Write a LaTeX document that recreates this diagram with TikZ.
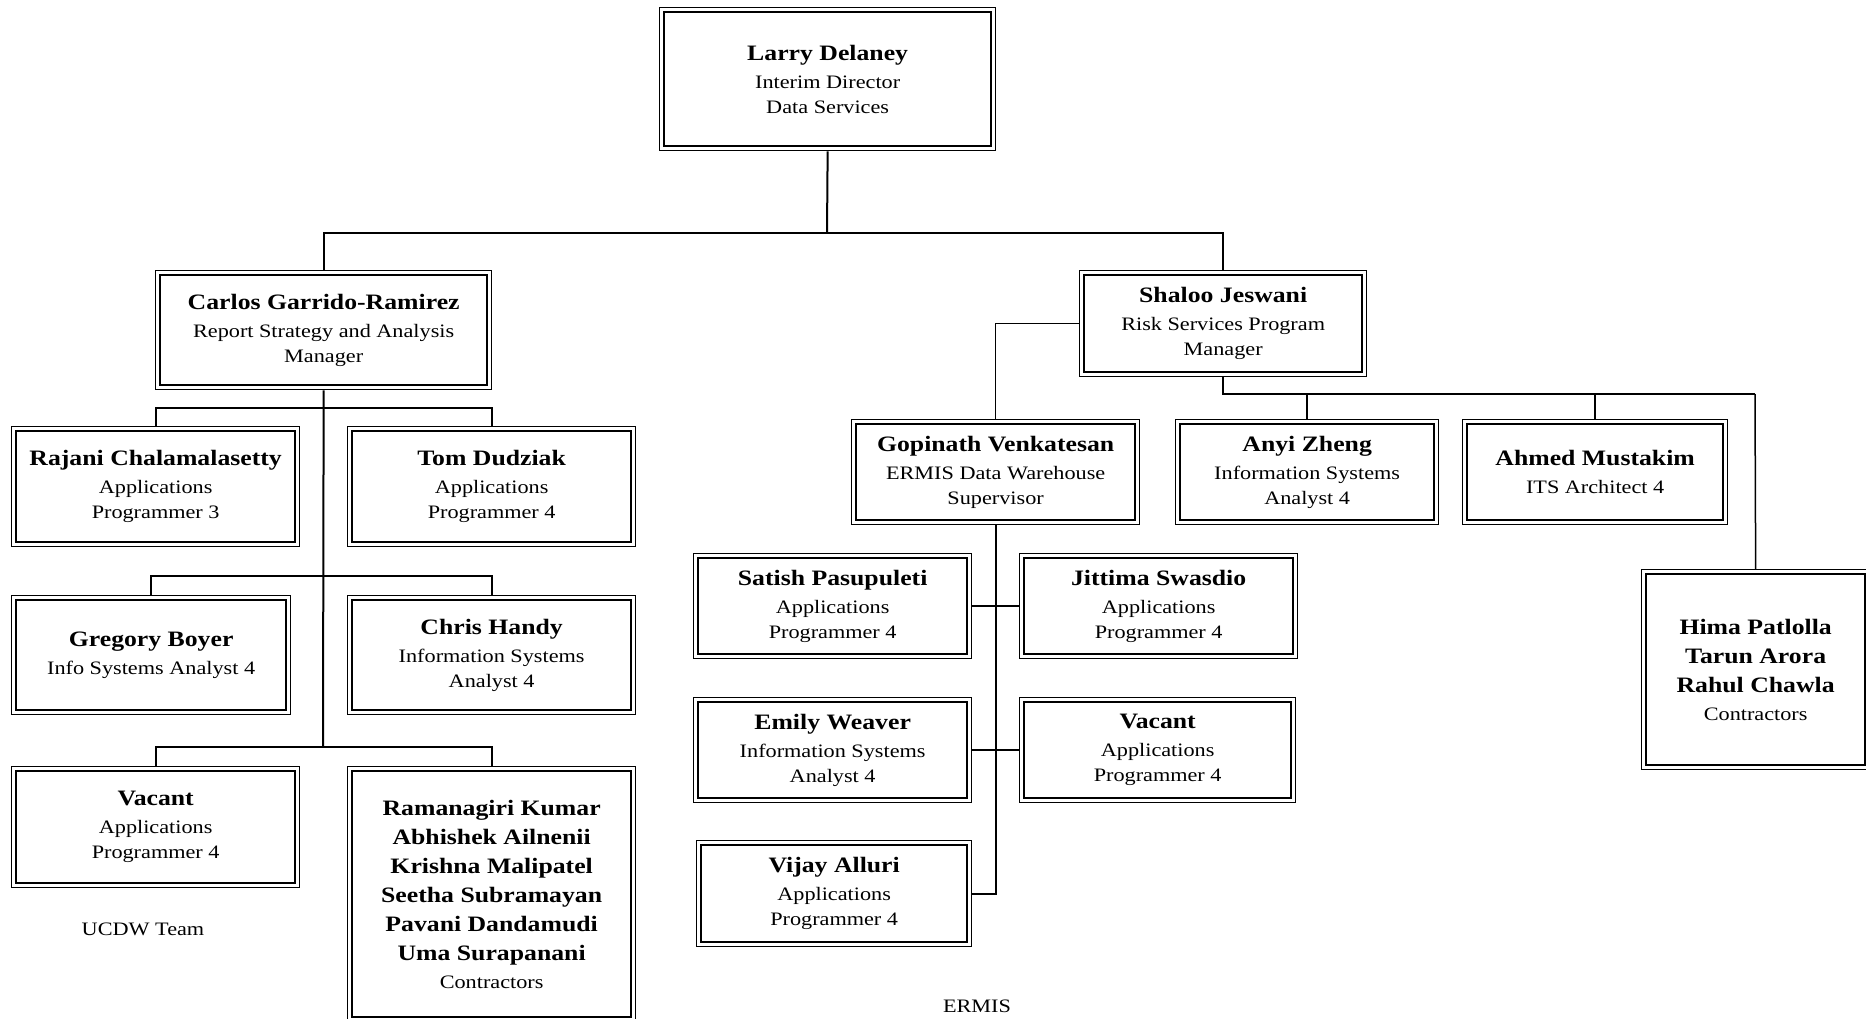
\documentclass[tikz,border=0pt]{standalone}
\usepackage{fontspec}
\setmainfont{Liberation Serif}[FakeStretch=1.17]
\tikzset{
  obox/.style={draw, line width=1.3pt, inner sep=0pt, anchor=north west, align=center,
    font=\fontsize{19}{25}\selectfont},
  conn/.style={line width=2pt},
  thinconn/.style={line width=1.5pt},
  lbl/.style={font=\fontsize{19}{25}\selectfont, inner sep=0pt},
}
\newcommand\orgbox[6]{%
  \node[obox, minimum width={#4-#2}, minimum height={#5-#3}] (#1) at (#2,#3) {#6};
  \draw[line width=2.2pt] ([xshift=5pt,yshift=-5pt]#1.north west) rectangle ([xshift=-5pt,yshift=5pt]#1.south east);
}
\newcommand\nm[1]{{\fontsize{22}{28}\selectfont\bfseries #1}}
\begin{document}
\begin{tikzpicture}[x=1pt,y=-1pt]
\useasboundingbox[fill=white] (0,0) rectangle (1866,1019);

\orgbox{larry}{659}{7}{995}{150}{\nm{Larry Delaney}\\[3pt]Interim Director\\Data Services}
\orgbox{carlos}{155}{270}{491}{389}{\nm{Carlos Garrido-Ramirez}\\[3pt]Report Strategy and Analysis\\Manager}
\orgbox{rajani}{11}{426}{299}{546}{\nm{Rajani Chalamalasetty}\\[3pt]Applications\\Programmer 3}
\orgbox{tom}{347}{426}{635}{546}{\nm{Tom Dudziak}\\[3pt]Applications\\Programmer 4}
\orgbox{gregory}{11}{595}{290}{714}{\nm{Gregory Boyer}\\[3pt]Info Systems Analyst 4}
\orgbox{chris}{347}{595}{635}{714}{\nm{Chris Handy}\\[3pt]Information Systems\\Analyst 4}
\orgbox{vacanta}{11}{766}{299}{887}{\nm{Vacant}\\[3pt]Applications\\Programmer 4}
\orgbox{contra}{347}{766}{635}{1021}{\nm{Ramanagiri Kumar}\\[4pt]\nm{Abhishek Ailnenii}\\[4pt]\nm{Krishna Malipatel}\\[4pt]\nm{Seetha Subramayan}\\[4pt]\nm{Pavani Dandamudi}\\[4pt]\nm{Uma Surapanani}\\[3pt]Contractors}

\orgbox{shaloo}{1079}{270}{1366}{376}{\nm{Shaloo Jeswani}\\[3pt]Risk Services Program\\Manager}
\orgbox{gopi}{851}{419}{1139}{524}{\nm{Gopinath Venkatesan}\\[3pt]ERMIS Data Warehouse\\Supervisor}
\orgbox{anyi}{1175}{419}{1438}{524}{\nm{Anyi Zheng}\\[3pt]Information Systems\\Analyst 4}
\orgbox{ahmed}{1462}{419}{1727}{524}{\nm{Ahmed Mustakim}\\[3pt]ITS Architect 4}
\orgbox{contrb}{1641}{569}{1869}{769}{\nm{Hima Patlolla}\\[4pt]\nm{Tarun Arora}\\[4pt]\nm{Rahul Chawla}\\[3pt]Contractors}
\orgbox{satish}{693}{553}{971}{658}{\nm{Satish Pasupuleti}\\[3pt]Applications\\Programmer 4}
\orgbox{jittima}{1019}{553}{1297}{658}{\nm{Jittima Swasdio}\\[3pt]Applications\\Programmer 4}
\orgbox{emily}{693}{697}{971}{802}{\nm{Emily Weaver}\\[3pt]Information Systems\\Analyst 4}
\orgbox{vacantb}{1019}{697}{1295}{802}{\nm{Vacant}\\[3pt]Applications\\Programmer 4}
\orgbox{vijay}{696}{840}{971}{946}{\nm{Vijay Alluri}\\[3pt]Applications\\Programmer 4}

\node[lbl] (ucdw) at (143,929) {UCDW Team};
\node[lbl] (ermis) at (977,1006) {ERMIS};

% top connectors
\coordinate (jtop) at (827,233);
\draw[conn] (larry.south) -- (jtop);
\draw[conn] (carlos.north) |- (jtop) -| (shaloo.north);

% Carlos branch
\coordinate (cja) at (323,408);
\coordinate (cjb) at (323,576);
\coordinate (cjc) at (323,747);
\draw[conn] (carlos.south) -- (cjc);
\draw[conn] (rajani.north) |- (cja) -| (tom.north);
\draw[conn] (gregory.north) |- (cjb) -| (chris.north);
\draw[conn] (vacanta.north) |- (cjc) -| (contra.north);

% Shaloo branch
\draw[thinconn] (shaloo.west) -| (gopi.north);
\coordinate (sj) at (1755,394);
\draw[conn] (shaloo.south) |- (sj);
\draw[thinconn] (sj) -- (contrb.north);
\draw[conn] (anyi.north) -- (anyi.north |- sj);
\draw[conn] (ahmed.north) -- (ahmed.north |- sj);

% Gopinath branch
\draw[conn] (gopi.south) |- (vijay.east);
\draw[conn] (satish.east) -- (jittima.west);
\draw[conn] (emily.east) -- (vacantb.west);
\end{tikzpicture}
\end{document}
